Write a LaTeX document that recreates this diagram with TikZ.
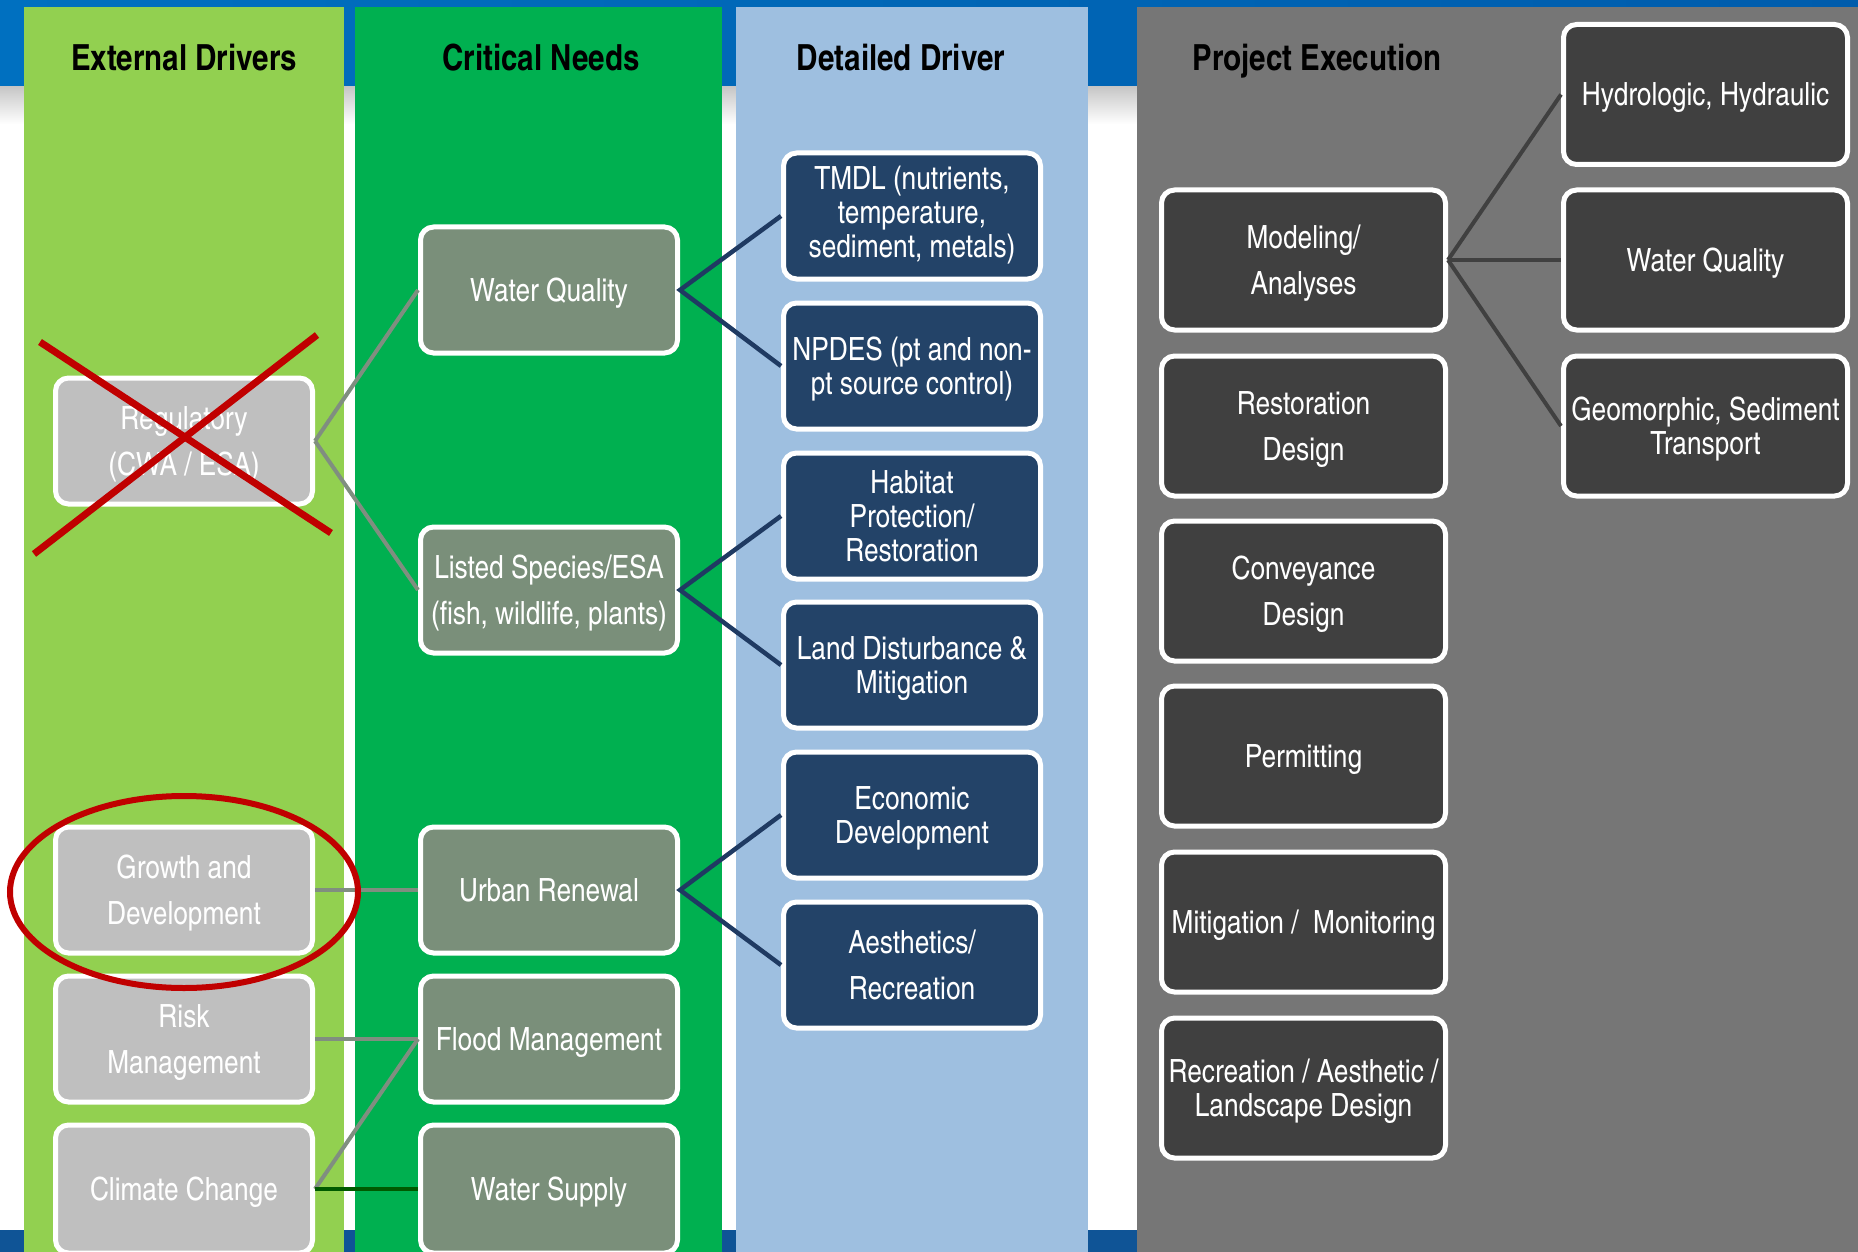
\documentclass[tikz,border=0pt]{standalone}
\usepackage{fontspec}
\setmainfont{texgyreheroscn}[Extension=.otf,UprightFont=*-regular,BoldFont=*-bold,ItalicFont=*-italic,BoldItalicFont=*-bolditalic]
\usetikzlibrary{shapes.geometric}
\definecolor{bandblue}{RGB}{0,112,192}
\definecolor{bandblueB}{RGB}{0,92,172}
\definecolor{bottomblue}{RGB}{15,84,150}
\definecolor{colA}{RGB}{146,208,80}
\definecolor{colB}{RGB}{0,176,80}
\definecolor{colC}{RGB}{158,191,224}
\definecolor{colD}{RGB}{118,118,118}
\definecolor{nodeA}{RGB}{191,191,191}
\definecolor{nodeB}{RGB}{122,143,122}
\definecolor{nodeC}{RGB}{35,67,104}
\definecolor{nodeD}{RGB}{64,64,64}
\definecolor{lineA}{RGB}{128,142,128}
\definecolor{lineB}{RGB}{31,58,98}
\definecolor{lineG}{RGB}{0,90,0}
\definecolor{markred}{RGB}{192,0,0}
\begin{document}
\begin{tikzpicture}[x=1pt,y=-1pt,
  box/.style={rectangle, rounded corners=13pt, draw=white, line width=5pt, text=white,
    align=center, inner sep=2pt, minimum width=257pt, minimum height=126pt,
    text depth=0pt, font=\fontsize{32}{34}\selectfont},
  wide/.style={font=\fontsize{32}{46}\selectfont},
  boxA/.style={box, fill=nodeA},
  boxB/.style={box, fill=nodeB},
  boxC/.style={box, fill=nodeC},
  boxD/.style={box, fill=nodeD, minimum width=284pt, minimum height=140pt},
  coltitle/.style={font=\bfseries\fontsize{36}{40}\selectfont, text=black, inner sep=0pt, text depth=0pt},
  linkA/.style={draw=lineA, line width=4pt},
  linkB/.style={draw=lineB, line width=4.5pt},
  linkD/.style={draw=nodeD, line width=4pt},
  redmark/.style={draw=markred, line width=7pt}
]
\useasboundingbox (0,0) rectangle (1858,1252);
\clip (0,0) rectangle (1858,1252);
% background
\fill[white] (0,0) rectangle (1858,1252);
\shade[left color=bandblue, right color=bandblueB] (0,0) rectangle (1858,87);
\shade[top color=black!22, bottom color=white] (0,87) rectangle (1858,124);
\fill[bottomblue] (0,1230) rectangle (1858,1252);
% columns
\fill[colA] (24,7) rectangle (344,1252);
\fill[colB] (355,7) rectangle (722,1252);
\fill[colC] (736,7) rectangle (1088,1252);
\fill[colD] (1137,7) rectangle (1858,1252);
% titles
\node[coltitle] (t1) at (184,57) {External Drivers};
\node[coltitle] (t2) at (541,57) {Critical Needs};
\node[coltitle] (t3) at (901,57) {Detailed Driver};
\node[coltitle] (t4) at (1317,57) {Project Execution};
% column 1
\node[boxA, wide] (reg) at (184,441) {Regulatory\\(CWA / ESA)};
\node[boxA, wide] (grow) at (184,890) {Growth and\\Development};
\node[boxA, wide] (risk) at (184,1039) {Risk\\Management};
\node[boxA, minimum height=128pt] (clim) at (184,1189) {Climate Change};
% column 2
\node[boxB] (wq) at (549,290) {Water Quality};
\node[boxB, wide] (ls) at (549,590) {Listed Species/ESA\\(fish, wildlife, plants)};
\node[boxB] (ur) at (549,890) {Urban Renewal};
\node[boxB] (fm) at (549,1039) {Flood Management};
\node[boxB, minimum height=128pt] (ws) at (549,1189) {Water Supply};
% column 3
\node[boxC, text depth=8pt] (tmdl) at (912,216) {TMDL (nutrients,\\temperature,\\sediment, metals)};
\node[boxC] (npdes) at (912,366) {NPDES (pt and non-\\pt source control)};
\node[boxC] (hab) at (912,516) {Habitat\\Protection/\\Restoration};
\node[boxC] (land) at (912,665) {Land Disturbance \&\\Mitigation};
\node[boxC] (econ) at (912,815) {Economic\\Development};
\node[boxC, wide] (aes) at (912,965) {Aesthetics/\\Recreation};
% column 4 left
\node[boxD, wide] (mod) at (1303.5,260) {Modeling/\\Analyses};
\node[boxD, wide] (rest) at (1303.5,426) {Restoration\\Design};
\node[boxD, wide] (conv) at (1303.5,591) {Conveyance\\Design};
\node[boxD] (perm) at (1303.5,756) {Permitting};
\node[boxD] (mitig) at (1303.5,922) {Mitigation /\ \ Monitoring};
\node[boxD] (recr) at (1303.5,1088) {Recreation / Aesthetic /\\Landscape Design};
% column 4 right
\node[boxD] (hydro) at (1705.5,94.5) {Hydrologic, Hydraulic};
\node[boxD] (wq2) at (1705.5,260) {Water Quality};
\node[boxD] (geo) at (1705.5,426) {Geomorphic, Sediment\\Transport};
% connectors
\draw[linkA] (reg.east) -- (wq.west);
\draw[linkA] (reg.east) -- (ls.west);
\draw[linkA] (grow.east) -- (ur.west);
\draw[linkA] (risk.east) -- (fm.west);
\draw[linkA] (clim.east) -- (fm.west);
\draw[draw=lineG, line width=4.5pt] (clim.east) -- (ws.west);
\draw[linkB] (tmdl.west) -- (wq.east) -- (npdes.west);
\draw[linkB] (hab.west) -- (ls.east) -- (land.west);
\draw[linkB] (econ.west) -- (ur.east) -- (aes.west);
\draw[linkD] (mod.east) -- (hydro.west);
\draw[linkD] (mod.east) -- (wq2.west);
\draw[linkD] (mod.east) -- (geo.west);
% red marks
\coordinate (xa1) at (40,342);
\coordinate (xa2) at (331,533);
\coordinate (xb1) at (317,335);
\coordinate (xb2) at (34,554);
\draw[redmark] (xa1) -- (xa2);
\draw[redmark] (xb1) -- (xb2);
\coordinate (ellc) at (184,892);
\draw[draw=markred, line width=6pt] (ellc) ellipse [x radius=174, y radius=96];
\end{tikzpicture}
\end{document}
